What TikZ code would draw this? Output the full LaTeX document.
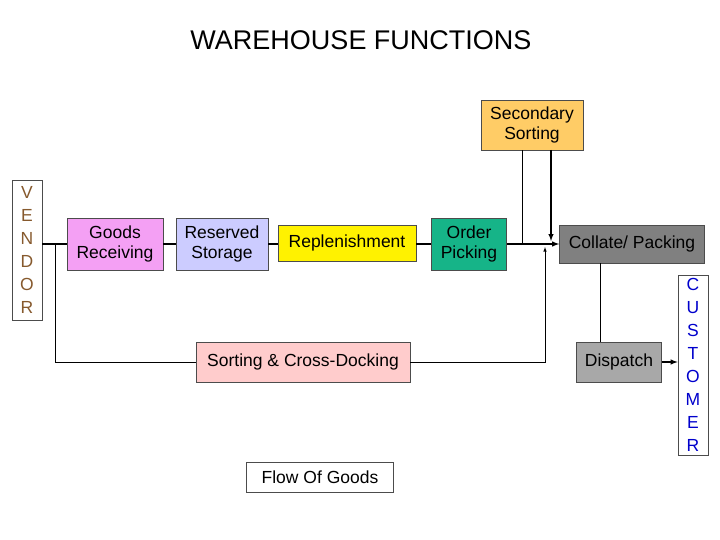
\documentclass[tikz,border=0pt]{standalone}
\usepackage{fontspec}
\setmainfont{Liberation Sans}
\begin{document}
\begin{tikzpicture}[x=1pt,y=-1pt,
 box/.style={draw=black!70,line width=0.6pt,inner sep=0pt,align=center,font=\fontsize{17.5}{20}\selectfont},
 vert/.style={box,font=\fontsize{17.5}{23}\selectfont},
 thick/.style={line width=1.4pt},
 thin/.style={line width=0.6pt},
 >=latex]
\useasboundingbox (0,0) rectangle (720,540);
\definecolor{gr}{HTML}{F4A0F4}\definecolor{rs}{HTML}{CCCCFF}\definecolor{op}{HTML}{16B488}
\definecolor{cp}{HTML}{808080}\definecolor{ss}{HTML}{FFCC66}\definecolor{sc}{HTML}{FFCCCC}\definecolor{dp}{HTML}{A8A8A8}
\node[font=\fontsize{27}{30}\selectfont] (t) at (361,40) {WAREHOUSE FUNCTIONS};
\node[vert,minimum width=30,minimum height=140,text=brown!70!black] (v) at (27,250) {V\\E\\N\\D\\O\\R};
\node[box,fill=gr,minimum width=96,minimum height=52] (g) at (115,244) {Goods\\Receiving};
\node[box,fill=rs,minimum width=92,minimum height=52] (r) at (222,244) {Reserved\\Storage};
\node[box,fill=yellow,minimum width=138,minimum height=36] (p) at (347,243) {Replenishment};
\node[box,fill=op,minimum width=75,minimum height=52] (o) at (469,244) {Order\\Picking};
\node[box,fill=cp,minimum width=145,minimum height=38] (c) at (632,244) {Collate/ Packing};
\node[box,fill=ss,minimum width=102,minimum height=50] (s) at (532,125) {Secondary\\Sorting};
\node[box,fill=sc,minimum width=214,minimum height=40] (x) at (303,362) {Sorting \& Cross-Docking};
\node[box,fill=dp,minimum width=85,minimum height=40] (d) at (619,362) {Dispatch};
\node[vert,minimum width=30,minimum height=180,text=blue!80!black] (cu) at (693,365) {C\\U\\S\\T\\O\\M\\E\\R};
\node[box,minimum width=147,minimum height=30] (f) at (320,477) {Flow Of Goods};
\draw[thick] (v.east|-g) -- (g.west);
\draw[thick] (g.east) -- (r.west);
\draw[thick] (r.east) -- (r.east-|p.west);
\draw[thick] (p.east|-o) -- (o.west);
\draw[thick,->] (o.east) -- (c.west);
\draw[thin] (55,244) |- (x.west);
\draw[thin,->] (x.east) -| (545,247);
\draw[thin] (522,244) -- (522,150);
\draw[thick,->] (551,150) -- (551,241);
\draw[thin] (600,263) -- (600,342);
\draw[thick,->] (d.east) -- (cu.west|-d);
\end{tikzpicture}
\end{document}
